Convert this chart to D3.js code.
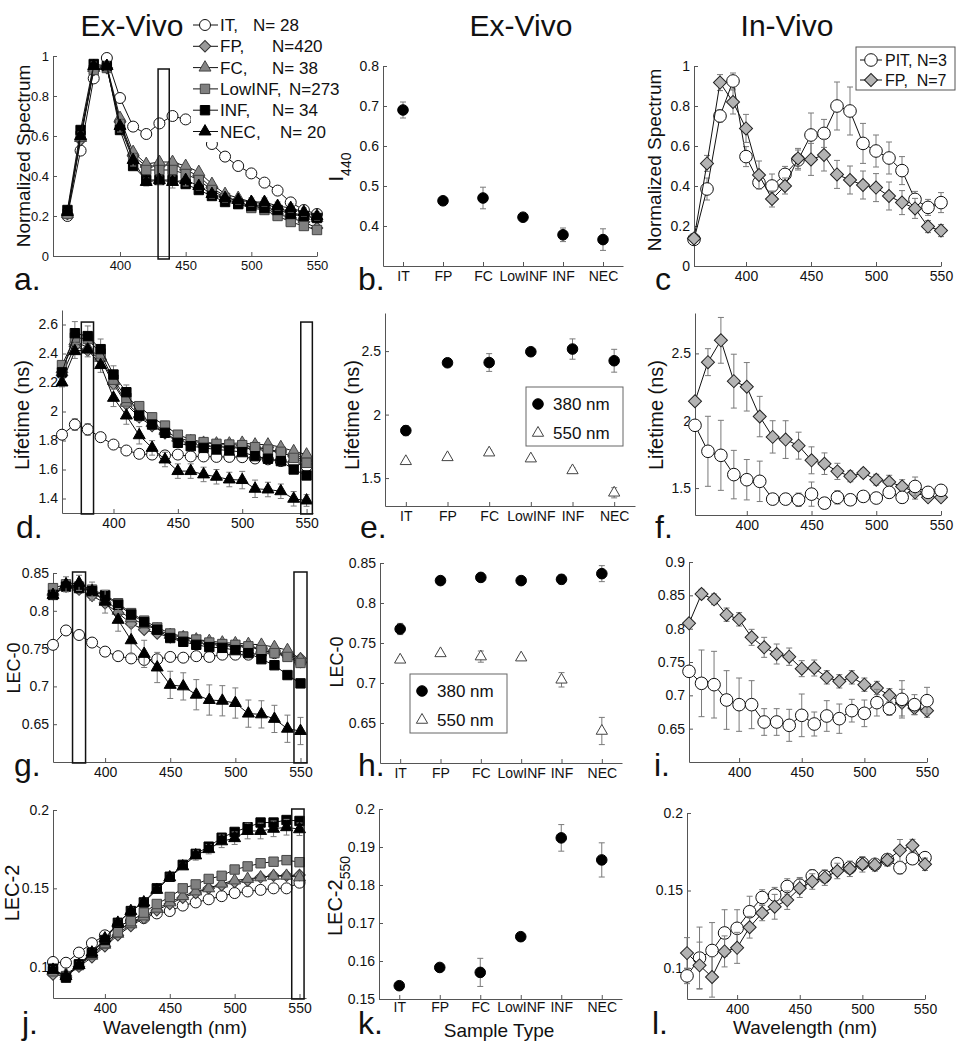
<!DOCTYPE html>
<meta charset="utf-8">
<style>
  body { margin: 0; background: #fff; }
  text { font-family: "Liberation Sans", Arial, sans-serif; fill: #111; }
</style>
<body>
<script src="https://d3js.org/d3.v7.min.js"></script>
<script>

// ---- data ----
var wl = [360,370,380,390,400,410,420,430,440,450,460,470,480,490,500,510,520,530,540,550];
var types = ["IT", "FP", "FC", "LowINF", "INF", "NEC"];
var legendNames = ["IT,", "FP,", "FC,", "LowINF,", "INF,", "NEC,"];
var legendN = ["N= 28", "N=420", "N= 38", "N=273", "N= 34", "N= 20"];
var vivoNames = ["PIT, N=3", "FP,  N=7"];
var wlTicks = [400, 450, 500, 550];

// a. normalized spectrum, ex-vivo
var specIT  = [0.20,0.527,0.888,0.99,0.79,0.647,0.61,0.663,0.70,0.683,0.645,0.56,0.497,0.45,0.413,0.367,0.327,0.268,0.23,0.21];
var specFP  = [0.21,0.58,0.93,0.94,0.67,0.50,0.45,0.45,0.46,0.43,0.40,0.34,0.30,0.27,0.25,0.24,0.21,0.19,0.17,0.14];
var specFC  = [0.21,0.59,0.94,0.95,0.69,0.52,0.46,0.47,0.47,0.45,0.42,0.36,0.31,0.29,0.27,0.26,0.24,0.22,0.20,0.19];
var specLow = [0.21,0.60,0.93,0.94,0.66,0.49,0.43,0.43,0.43,0.41,0.38,0.33,0.29,0.26,0.24,0.23,0.20,0.17,0.15,0.13];
var specINF = [0.23,0.63,0.96,0.95,0.63,0.45,0.38,0.38,0.38,0.36,0.33,0.30,0.27,0.26,0.25,0.24,0.23,0.21,0.20,0.19];
var specNEC = [0.22,0.60,0.95,0.95,0.65,0.48,0.37,0.38,0.37,0.38,0.35,0.31,0.29,0.28,0.27,0.27,0.25,0.24,0.22,0.20];
var specNECerr = [0.01,0.02,0.02,0.02,0.03,0.03,0.02,0.02,0.03,0.03,0.02,0.02,0.02,0.02,0.02,0.02,0.02,0.02,0.02,0.02];

// d. lifetime, ex-vivo
var ltIT  = [1.84,1.91,1.876,1.823,1.772,1.731,1.708,1.703,1.697,1.703,1.69,1.69,1.687,1.687,1.685,1.676,1.67,1.658,1.646,1.623];
var ltFP  = [2.25,2.45,2.42,2.36,2.19,2.05,1.96,1.90,1.85,1.80,1.78,1.76,1.76,1.75,1.75,1.74,1.73,1.72,1.69,1.66];
var ltFC  = [2.29,2.485,2.44,2.37,2.21,2.06,1.98,1.92,1.864,1.818,1.795,1.784,1.779,1.779,1.784,1.772,1.772,1.754,1.726,1.703];
var ltLow = [2.32,2.51,2.50,2.40,2.22,2.094,2.037,1.96,1.903,1.84,1.807,1.789,1.777,1.772,1.768,1.754,1.738,1.722,1.68,1.646];
var ltINF = [2.27,2.54,2.52,2.43,2.255,2.133,1.972,1.91,1.853,1.784,1.761,1.749,1.738,1.731,1.72,1.692,1.674,1.658,1.60,1.559];
var ltNEC = [2.20,2.416,2.427,2.32,2.094,1.972,1.836,1.749,1.669,1.589,1.589,1.566,1.55,1.531,1.527,1.467,1.462,1.45,1.398,1.386];
var ltITerr  = [0.02,0.04,0.04,0.03,0.02,0.02,0.02,0.02,0.02,0.02,0.02,0.02,0.02,0.02,0.02,0.02,0.02,0.02,0.02,0.02];
var ltINFerr = [0.04,0.08,0.07,0.07,0.06,0.05,0.04,0.03,0.03,0.03,0.02,0.02,0.02,0.02,0.02,0.02,0.02,0.02,0.02,0.02];
var ltNECerr = [0.03,0.05,0.05,0.05,0.06,0.06,0.06,0.05,0.05,0.05,0.05,0.05,0.05,0.05,0.06,0.06,0.05,0.05,0.05,0.04];

// g. LEC-0, ex-vivo
var l0IT  = [0.755,0.774,0.768,0.758,0.746,0.74,0.737,0.735,0.736,0.739,0.738,0.74,0.739,0.742,0.742,0.742,0.744,0.744,0.742,0.732];
var l0FP  = [0.822,0.832,0.828,0.82,0.81,0.797,0.783,0.775,0.77,0.765,0.762,0.758,0.756,0.754,0.753,0.752,0.75,0.746,0.742,0.737];
var l0FC  = [0.825,0.834,0.832,0.825,0.815,0.80,0.79,0.782,0.775,0.768,0.765,0.762,0.76,0.758,0.757,0.756,0.755,0.752,0.748,0.736];
var l0Low = [0.83,0.835,0.832,0.828,0.821,0.81,0.797,0.787,0.778,0.77,0.766,0.762,0.758,0.756,0.755,0.753,0.748,0.744,0.739,0.731];
var l0INF = [0.821,0.832,0.830,0.826,0.82,0.808,0.795,0.785,0.775,0.764,0.759,0.755,0.752,0.751,0.748,0.744,0.736,0.728,0.715,0.704];
var l0NEC = [0.821,0.835,0.837,0.826,0.812,0.788,0.761,0.743,0.725,0.702,0.70,0.689,0.682,0.681,0.678,0.664,0.663,0.657,0.644,0.641];
var l0NECerr = [0.005,0.01,0.01,0.012,0.015,0.015,0.018,0.018,0.02,0.018,0.018,0.02,0.02,0.02,0.02,0.018,0.018,0.018,0.018,0.018];

// j. LEC-2, ex-vivo
var l2IT  = [0.103,0.1025,0.109,0.115,0.12,0.126,0.129,0.131,0.134,0.1355,0.139,0.141,0.143,0.145,0.147,0.148,0.149,0.150,0.150,0.1536];
var l2FP  = [0.095,0.094,0.10,0.106,0.113,0.12,0.126,0.131,0.136,0.14,0.144,0.147,0.150,0.152,0.154,0.155,0.157,0.158,0.158,0.1585];
var l2FC  = [0.097,0.095,0.101,0.107,0.114,0.121,0.127,0.132,0.137,0.141,0.145,0.148,0.150,0.153,0.155,0.156,0.157,0.158,0.158,0.157];
var l2Low = [0.097,0.094,0.101,0.108,0.115,0.122,0.129,0.1345,0.14,0.1445,0.15,0.1525,0.156,0.158,0.162,0.164,0.166,0.167,0.168,0.1667];
var l2INF = [0.0987,0.093,0.1015,0.109,0.117,0.128,0.1355,0.141,0.15,0.1574,0.165,0.172,0.1766,0.1823,0.186,0.189,0.192,0.192,0.1936,0.193];
var l2NEC = [0.098,0.094,0.101,0.109,0.118,0.128,0.1355,0.141,0.149,0.157,0.164,0.171,0.175,0.18,0.182,0.1866,0.1866,0.188,0.189,0.1877];
var l2NECerr = [0.002,0.002,0.002,0.002,0.002,0.002,0.002,0.002,0.002,0.002,0.002,0.003,0.003,0.004,0.004,0.005,0.005,0.005,0.005,0.004];

// b, e, h, k. summary per sample type
var i440    = [0.69,0.463,0.47,0.422,0.378,0.366];
var i440err = [0.02,0.004,0.027,0.003,0.017,0.027];
var lt380    = [1.874,2.408,2.41,2.495,2.516,2.424];
var lt380err = [0.04,0.01,0.07,0.01,0.08,0.09];
var lt550    = [1.632,1.663,1.70,1.653,1.56,1.384];
var lt550err = [0.01,0.01,0.02,0.005,0.02,0.04];
var lec0380    = [0.7675,0.828,0.832,0.828,0.8296,0.8367];
var lec0380err = [0.007,0.002,0.005,0.002,0.006,0.01];
var lec0550    = [0.729,0.737,0.733,0.7317,0.704,0.64];
var lec0550err = [0.003,0.002,0.007,0.002,0.009,0.017];
var lec2550    = [0.1535,0.1583,0.157,0.1664,0.1924,0.1866];
var lec2550err = [0.0006,0.0005,0.0037,0.0005,0.0035,0.0045];

// c, f, i, l. in-vivo
var pitSpec    = [0.133,0.385,0.75,0.925,0.547,0.417,0.40,0.458,0.53,0.655,0.663,0.80,0.775,0.613,0.575,0.54,0.477,0.333,0.293,0.317];
var pitSpecErr = [0.01,0.055,0.03,0.04,0.05,0.03,0.06,0.04,0.05,0.11,0.07,0.12,0.12,0.1,0.08,0.08,0.07,0.04,0.04,0.05];
var fpSpec     = [0.138,0.513,0.917,0.82,0.688,0.455,0.335,0.40,0.538,0.533,0.555,0.458,0.43,0.405,0.392,0.35,0.317,0.288,0.197,0.177];
var fpSpecErr  = [0.01,0.04,0.04,0.06,0.07,0.07,0.04,0.04,0.05,0.08,0.08,0.07,0.07,0.07,0.07,0.07,0.06,0.05,0.03,0.03];
var pitLt    = [1.966,1.773,1.743,1.6,1.562,1.55,1.418,1.418,1.413,1.455,1.388,1.431,1.413,1.438,1.426,1.468,1.431,1.512,1.468,1.483];
var pitLtErr = [0.02,0.26,0.26,0.18,0.15,0.15,0.03,0.04,0.05,0.09,0.04,0.05,0.04,0.03,0.04,0.04,0.04,0.07,0.02,0.04];
var fpLt     = [2.145,2.435,2.597,2.294,2.252,2.031,1.88,1.86,1.815,1.706,1.681,1.624,1.587,1.612,1.562,1.545,1.512,1.468,1.431,1.431];
var fpLtErr  = [0.02,0.1,0.17,0.2,0.18,0.15,0.12,0.14,0.1,0.1,0.08,0.06,0.04,0.03,0.04,0.05,0.05,0.05,0.03,0.03];
var pitL0    = [0.736,0.718,0.716,0.693,0.686,0.686,0.66,0.66,0.655,0.67,0.657,0.669,0.665,0.677,0.673,0.689,0.68,0.694,0.686,0.692];
var pitL0Err = [0.005,0.05,0.05,0.044,0.04,0.036,0.02,0.02,0.024,0.032,0.018,0.023,0.022,0.017,0.02,0.02,0.01,0.028,0.015,0.02];
var fpL0     = [0.808,0.852,0.844,0.821,0.814,0.787,0.772,0.762,0.758,0.74,0.741,0.727,0.721,0.727,0.716,0.711,0.70,0.689,0.681,0.677];
var fpL0Err  = [0.005,0.007,0.008,0.01,0.01,0.012,0.015,0.015,0.013,0.012,0.012,0.01,0.01,0.01,0.01,0.01,0.01,0.02,0.01,0.01];
var pitL2    = [0.0949,0.1064,0.1113,0.1226,0.1256,0.1363,0.1455,0.147,0.1526,0.1534,0.1594,0.159,0.1673,0.1647,0.1675,0.1669,0.170,0.1647,0.1705,0.1712];
var pitL2Err = [0.005,0.02,0.018,0.015,0.012,0.01,0.005,0.005,0.005,0.005,0.004,0.004,0.003,0.003,0.003,0.003,0.003,0.004,0.003,0.003];
var fpL2     = [0.1096,0.1017,0.0942,0.1107,0.113,0.1263,0.1355,0.1395,0.1438,0.1515,0.1558,0.1583,0.1626,0.164,0.1669,0.1665,0.1697,0.1759,0.179,0.1669];
var fpL2Err  = [0.01,0.015,0.013,0.01,0.01,0.007,0.005,0.008,0.006,0.006,0.005,0.005,0.005,0.005,0.005,0.004,0.004,0.007,0.004,0.004];

// highlighted wavelength bands [from, to]
var bandA = [[429, 437.5]];
var bandD = [[375, 384.5], [545.5, 554.5]];
var bandG = [[375, 385], [545, 555]];
var bandJ = [[544, 553.5]];

// ---- drawing ----
var svg = d3.select("body").append("svg")
    .attr("width", 973)
    .attr("height", 1050);

var fmt = function(d) { return String(+d.toFixed(3)); };
var catIdx = [1, 2, 3, 4, 5, 6];

// marker styles
var st = {
  IT:     {type: d3.symbolCircle,   size: 95, fill: "#fff",    stroke: "#111"},
  FP:     {type: d3.symbolSquare,   size: 66, fill: "#9a9a9a", stroke: "#333", rot: true},
  FC:     {type: d3.symbolTriangle, size: 62, fill: "#858585", stroke: "#444"},
  LowINF: {type: d3.symbolSquare,   size: 88, fill: "#808080", stroke: "#444"},
  INF:    {type: d3.symbolSquare,   size: 88, fill: "#000",    stroke: "#000"},
  NEC:    {type: d3.symbolTriangle, size: 62, fill: "#000",    stroke: "#000"},
  PIT:    {type: d3.symbolCircle,   size: 125, fill: "#fff",   stroke: "#111"},
  vFP:    {type: d3.symbolSquare,   size: 85, fill: "#b3b3b3", stroke: "#222", rot: true},
  dot:    {type: d3.symbolCircle,   size: 88, fill: "#000",    stroke: "#000"},
  tri:    {type: d3.symbolTriangle, size: 55, fill: "#fff",    stroke: "#444"}
};

function makePanel(p) {
  var x = d3.scaleLinear().domain(p.xd).range(p.xr);
  var y = d3.scaleLinear().domain(p.yd).range(p.yr);
  var g = svg.append("g");

  var ya = g.append("g")
      .attr("transform", "translate(" + p.xr[0] + ",0)")
      .call(d3.axisLeft(y).tickValues(p.yt).tickFormat(fmt)
            .tickSize(-4).tickSizeOuter(0).tickPadding(4));
  var xa = g.append("g")
      .attr("transform", "translate(0," + p.yr[0] + ")")
      .call(d3.axisBottom(x).tickValues(p.xt).tickFormat(p.xf || fmt)
            .tickSize(-4).tickSizeOuter(0).tickPadding(p.xpad || 5));

  [ya, xa].forEach(function(a) {
    a.attr("font-family", null).attr("font-size", p.fs).attr("color", "#555");
    a.selectAll("text").attr("fill", "#111");
  });
  return {x: x, y: y, g: g};
}

function marker(sel, s) {
  return sel.append("path")
      .attr("d", d3.symbol(s.type, s.size))
      .attr("fill", s.fill)
      .attr("stroke", s.stroke)
      .attr("stroke-width", 1);
}

function errBars(P, xs, ys, es) {
  var eg = P.g.append("g").attr("stroke", "#7a7a7a").attr("stroke-width", 1);
  ys.forEach(function(v, i) {
    var cx = P.x(xs[i]), y0 = P.y(v - es[i]), y1 = P.y(v + es[i]);
    eg.append("line").attr("x1", cx).attr("x2", cx).attr("y1", y0).attr("y2", y1);
    eg.append("line").attr("x1", cx - 3).attr("x2", cx + 3).attr("y1", y0).attr("y2", y0);
    eg.append("line").attr("x1", cx - 3).attr("x2", cx + 3).attr("y1", y1).attr("y2", y1);
  });
}

function series(P, xs, ys, es, s, noLine) {
  if (es) errBars(P, xs, ys, es);
  if (!noLine) {
    P.g.append("path")
        .datum(ys)
        .attr("d", d3.line().x(function(d, i) { return P.x(xs[i]); }).y(function(d) { return P.y(d); }))
        .attr("fill", "none")
        .attr("stroke", "#111")
        .attr("stroke-width", 1);
  }
  ys.forEach(function(v, i) {
    marker(P.g, s).attr("transform", "translate(" + P.x(xs[i]) + "," + P.y(v) + ")" + (s.rot ? " rotate(45)" : ""));
  });
}

function bands(P, list, top, bottom) {
  var yd = P.y.domain();
  var t = top == null ? yd[1] : top, b = bottom == null ? yd[0] : bottom;
  list.forEach(function(r) {
    P.g.append("rect")
        .attr("x", P.x(r[0]))
        .attr("y", P.y(t) - 1)
        .attr("width", P.x(r[1]) - P.x(r[0]))
        .attr("height", P.y(b) - P.y(t) + 2)
        .attr("fill", "none")
        .attr("stroke", "#111")
        .attr("stroke-width", 1.5);
  });
}

function label(x, y, txt, size, rotate, anchor) {
  return svg.append("text")
      .attr("transform", "translate(" + x + "," + y + ")" + (rotate ? " rotate(-90)" : ""))
      .attr("text-anchor", anchor || "middle")
      .style("font-size", size + "px")
      .text(txt);
}

function subLabel(x, y, main, sub, size) {
  var t = svg.append("text")
      .attr("transform", "translate(" + x + "," + y + ") rotate(-90)")
      .attr("text-anchor", "middle");
  t.append("tspan").style("font-size", size + "px").text(main);
  t.append("tspan").style("font-size", "14px").attr("dy", 8).text(sub);
}

function typeLegend(x, y) {
  var lg = svg.append("g").attr("transform", "translate(" + x + "," + y + ")");
  lg.append("rect").attr("width", 97).attr("height", 59)
      .attr("fill", "#fff").attr("stroke", "#666").attr("stroke-width", 1);
  marker(lg, st.dot).attr("transform", "translate(12,17)");
  marker(lg, st.tri).attr("transform", "translate(12,46)");
  lg.append("text").attr("x", 27).attr("y", 17).attr("dy", "0.35em").style("font-size", "17px").text("380 nm");
  lg.append("text").attr("x", 27).attr("y", 46).attr("dy", "0.35em").style("font-size", "17px").text("550 nm");
}

var exSets = ["IT", "FP", "FC", "LowINF", "INF", "NEC"];
var catFmt = function(d) { return types[d - 1]; };

// ---- a. ----
var A = makePanel({xd: [349, 550], xr: [53, 317], yd: [0, 1], yr: [256, 56],
                   yt: [0, 0.2, 0.4, 0.6, 0.8, 1], xt: wlTicks, fs: 13});
[specIT, specFP, specFC, specLow, specINF, specNEC].forEach(function(s, k) {
  series(A, wl, s, k == 5 ? specNECerr : null, st[exSets[k]]);
});
bands(A, bandA, 0.93, -0.01);

// legend of a (white background, no frame)
var la = svg.append("g");
la.append("rect").attr("x", 191).attr("y", 11).attr("width", 150).attr("height", 131).attr("fill", "#fff");
var nX = [253, 272, 272, 289, 272, 280];
legendNames.forEach(function(n, k) {
  var yy = 25 + k * 21.3;
  la.append("line").attr("x1", 193).attr("x2", 218).attr("y1", yy).attr("y2", yy).attr("stroke", "#111");
  var s = st[exSets[k]];
  marker(la, s).attr("transform", "translate(205," + yy + ")" + (s.rot ? " rotate(45)" : ""));
  la.append("text").attr("x", 220).attr("y", yy).attr("dy", "0.36em").style("font-size", "17px").text(n);
  la.append("text").attr("x", nX[k]).attr("y", yy).attr("dy", "0.36em").style("font-size", "17px").text(legendN[k]);
});

// ---- b. ----
var B = makePanel({xd: [0.5, 6.5], xr: [383, 623], yd: [0.3, 0.8], yr: [266, 66],
                   yt: [0.4, 0.5, 0.6, 0.7, 0.8], xt: catIdx, xf: catFmt, fs: 14});
series(B, catIdx, i440, i440err, st.dot, true);

// ---- c. ----
var C = makePanel({xd: [360, 550], xr: [694, 941], yd: [0, 1], yr: [266, 66],
                   yt: [0, 0.2, 0.4, 0.6, 0.8, 1], xt: wlTicks, fs: 14});
series(C, wl, pitSpec, pitSpecErr, st.PIT);
series(C, wl, fpSpec, fpSpecErr, st.vFP);

var lc = svg.append("g").attr("transform", "translate(856,47)");
lc.append("rect").attr("width", 99).attr("height", 43).attr("fill", "#fff").attr("stroke", "#555");
[st.PIT, st.vFP].forEach(function(s, k) {
  var yy = 13 + k * 20;
  lc.append("line").attr("x1", 4).attr("x2", 26).attr("y1", yy).attr("y2", yy).attr("stroke", "#111");
  marker(lc, s).attr("transform", "translate(15," + yy + ")" + (s.rot ? " rotate(45)" : ""));
  lc.append("text").attr("x", 29).attr("y", yy).attr("dy", "0.36em")
      .style("font-size", "16px").style("white-space", "pre").text(vivoNames[k]);
});

// ---- d. ----
var D = makePanel({xd: [360, 555], xr: [62, 313], yd: [1.3, 2.7], yr: [513, 310],
                   yt: [1.4, 1.6, 1.8, 2, 2.2, 2.4, 2.6], xt: wlTicks, fs: 14});
var ltErrs = [ltITerr, null, null, null, ltINFerr, ltNECerr];
[ltIT, ltFP, ltFC, ltLow, ltINF, ltNEC].forEach(function(s, k) {
  series(D, wl, s, ltErrs[k], st[exSets[k]]);
});
bands(D, bandD, 2.61);

// ---- e. ----
var E = makePanel({xd: [0.5, 6.5], xr: [385, 635], yd: [1.28, 2.8], yr: [506, 313],
                   yt: [1.5, 2, 2.5], xt: catIdx, xf: catFmt, fs: 14});
series(E, catIdx, lt380, lt380err, st.dot, true);
series(E, catIdx, lt550, lt550err, st.tri, true);
typeLegend(526, 387);

// ---- f. ----
var F = makePanel({xd: [360, 550], xr: [695, 941], yd: [1.3, 2.8], yr: [515, 313],
                   yt: [1.5, 2, 2.5], xt: wlTicks, fs: 14});
series(F, wl, fpLt, fpLtErr, st.vFP);
series(F, wl, pitLt, pitLtErr, st.PIT);

// ---- g. ----
var G = makePanel({xd: [360, 555], xr: [53, 307], yd: [0.6, 0.85], yr: [762, 573],
                   yt: [0.65, 0.7, 0.75, 0.8, 0.85], xt: wlTicks, fs: 14});
[l0IT, l0FP, l0FC, l0Low, l0INF, l0NEC].forEach(function(s, k) {
  series(G, wl, s, k == 5 ? l0NECerr : null, st[exSets[k]]);
});
bands(G, bandG);

// ---- h. ----
var H = makePanel({xd: [0.5, 6.5], xr: [380, 622], yd: [0.6, 0.85], yr: [763, 563],
                   yt: [0.65, 0.7, 0.75, 0.8, 0.85], xt: catIdx, xf: catFmt, fs: 14});
series(H, catIdx, lec0380, lec0380err, st.dot, true);
series(H, catIdx, lec0550, lec0550err, st.tri, true);
typeLegend(410, 674);

// ---- i. ----
var I = makePanel({xd: [360, 550], xr: [689, 927], yd: [0.6, 0.9], yr: [762, 562],
                   yt: [0.65, 0.7, 0.75, 0.8, 0.85, 0.9], xt: wlTicks, fs: 14});
series(I, wl, fpL0, fpL0Err, st.vFP);
series(I, wl, pitL0, pitL0Err, st.PIT);

// ---- j. ----
var J = makePanel({xd: [360, 555], xr: [53, 306], yd: [0.08, 0.2], yr: [998, 810],
                   yt: [0.1, 0.15, 0.2], xt: wlTicks, fs: 14});
[l2IT, l2FP, l2FC, l2Low, l2INF, l2NEC].forEach(function(s, k) {
  series(J, wl, s, k == 5 ? l2NECerr : null, st[exSets[k]]);
});
bands(J, bandJ);

// ---- k. ----
var K = makePanel({xd: [0.5, 6.5], xr: [379, 622], yd: [0.15, 0.2], yr: [999, 809],
                   yt: [0.15, 0.16, 0.17, 0.18, 0.19, 0.2], xt: catIdx, xf: catFmt, fs: 14, xpad: 3});
series(K, catIdx, lec2550, lec2550err, st.dot, true);

// ---- l. ----
var L = makePanel({xd: [360, 550], xr: [687, 925], yd: [0.08, 0.2], yr: [999, 813],
                   yt: [0.1, 0.15, 0.2], xt: wlTicks, fs: 14});
series(L, wl, pitL2, pitL2Err, st.PIT);
series(L, wl, fpL2, fpL2Err, st.vFP);

// ---- titles and axis labels ----
label(132, 36, "Ex-Vivo", 30);
label(521, 36, "Ex-Vivo", 30);
label(787, 36, "In-Vivo", 30);

label(30, 156, "Normalized Spectrum", 19, true);
subLabel(343, 167, "I", "440", 20);
label(661, 160, "Normalized Spectrum", 19, true);
label(29, 415, "Lifetime (ns)", 20, true);
label(359, 415, "Lifetime (ns)", 20, true);
label(663, 415, "Lifetime (ns)", 20, true);
label(20, 668, "LEC-0", 18, true);
label(343, 662, "LEC-0", 18, true);
label(19, 893, "LEC-2", 20, true);
subLabel(342, 896, "LEC-2", "550", 20);

label(175, 1034, "Wavelength (nm)", 19);
label(499, 1037, "Sample Type", 19);
label(805, 1034, "Wavelength (nm)", 19);

// panel letters
var letters = [["a.", 14, 290], ["b.", 358, 290], ["c", 655, 290],
               ["d.", 16, 538], ["e.", 360, 538], ["f.", 655, 538],
               ["g.", 14, 776], ["h.", 358, 776], ["i.", 654, 776],
               ["j.", 22, 1034], ["k.", 358, 1034], ["l.", 652, 1034]];
letters.forEach(function(l) { label(l[1], l[2], l[0], 32, false, "start"); });

</script>
</body>
